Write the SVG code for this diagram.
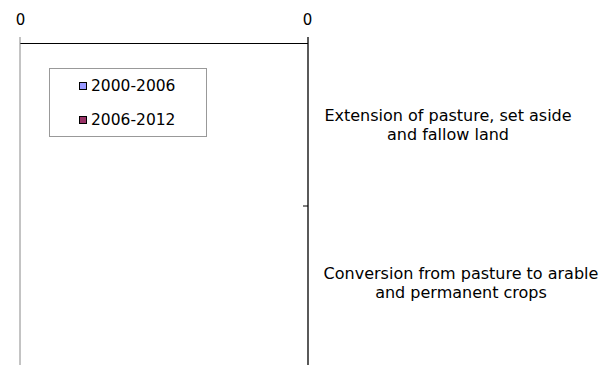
<svg xmlns="http://www.w3.org/2000/svg" width="611" height="365" viewBox="0 0 611 365">
<style>
text{font-family:"DejaVu Sans",Verdana,sans-serif;fill:#000}
.ax{font-size:15px;text-anchor:middle}
.lg{font-size:15.5px}
.cat{font-size:16px;text-anchor:middle}
</style>
<rect width="611" height="365" fill="#fff"/>
<g id="axes">
<line x1="20" y1="43.5" x2="308" y2="43.5" stroke="#000" stroke-width="1"/>
<line x1="20" y1="37" x2="20" y2="365" stroke="#888" stroke-width="1"/>
<line x1="308" y1="37" x2="308" y2="365" stroke="#000" stroke-width="1.3"/>
<line x1="303" y1="206" x2="308" y2="206" stroke="#000" stroke-width="1"/>
<text class="ax" x="20.5" y="25">0</text>
<text class="ax" x="307.5" y="25">0</text>
</g>
<g id="legend">
<rect x="49.5" y="68.5" width="157" height="68" fill="#fff" stroke="#999" stroke-width="1"/>
<rect x="79.5" y="82.5" width="7" height="7" fill="#9999ff" stroke="#000" stroke-width="1"/>
<text class="lg" x="91" y="91">2000-2006</text>
<rect x="79.5" y="116.5" width="7" height="7" fill="#993366" stroke="#000" stroke-width="1"/>
<text class="lg" x="91" y="125">2006-2012</text>
</g>
<g id="labels">
<text class="cat" x="448" y="121">Extension of pasture, set aside</text>
<text class="cat" x="448" y="140">and fallow land</text>
<text class="cat" x="461" y="279">Conversion from pasture to arable</text>
<text class="cat" x="461" y="298">and permanent crops</text>
</g>
</svg>
